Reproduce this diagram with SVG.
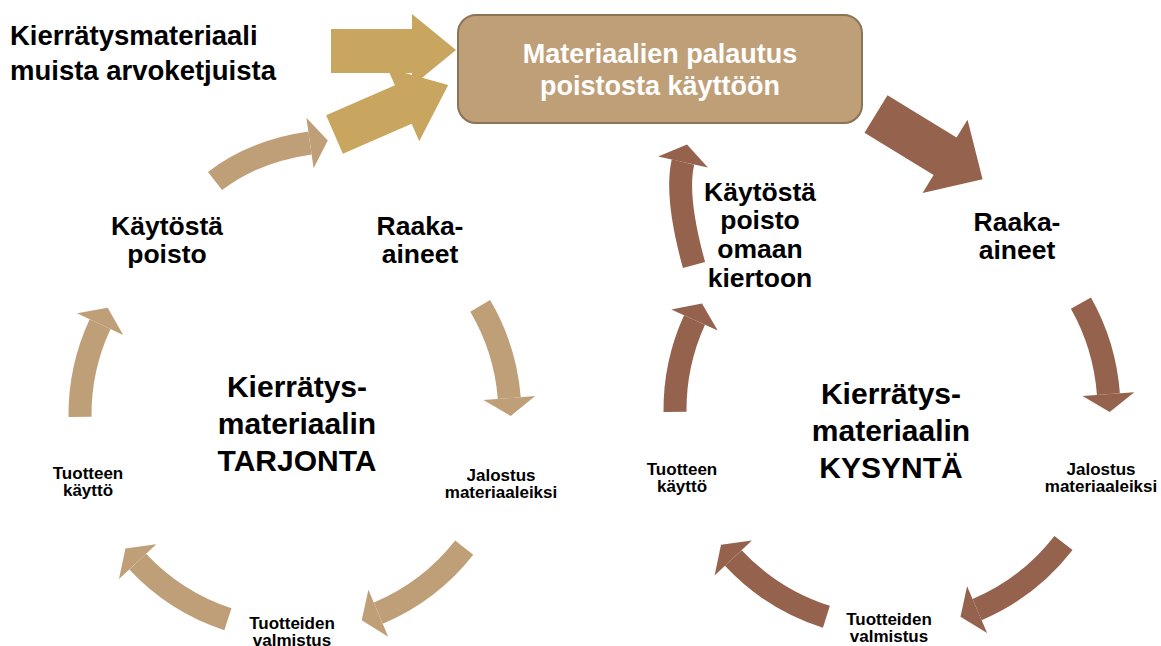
<svg xmlns="http://www.w3.org/2000/svg" width="1161" height="646" viewBox="0 0 1161 646">
<style>
text{font-family:"Liberation Sans",Arial,Helvetica,sans-serif;font-weight:bold;fill:#000;text-anchor:middle}
.l{text-anchor:start}
.big{font-size:30px}
.med{font-size:26.5px}
.sm{font-size:17px}
.box{font-size:27px;fill:#fff}
.tl{font-size:27.5px}
.tanS{fill:none;stroke:#BF9F78;stroke-width:23}
.brnS{fill:none;stroke:#94624D;stroke-width:23}
.tan{fill:#BF9F78}
.brn{fill:#94624D}
.gold{fill:#C8A65F}
</style>
<rect width="1161" height="646" fill="#fff"/>
<g id="connectors">
  <polygon class="gold" points="331,29 412,29 412,14 456,50 412,86 412,73 331,73"/>
  <polygon class="gold" transform="translate(334.5,134.5) rotate(-23.5)" points="0,-21 75,-21 75,-40 124,0 75,40 75,21 0,21"/>
  <polygon class="brn" transform="translate(876,114) rotate(31.5)" points="0,-22 81,-22 81,-43 125,0 81,43 81,22 0,22"/>
  <path class="tanS" d="M480.2,305.9 A215,215 0 0 1 509.3,398.1"/>
  <polygon class="tan" points="535.2,396.1 510.7,416.0 483.4,400.1"/>
  <path class="tanS" d="M464.2,547.7 A215,215 0 0 1 378.3,613.2"/>
  <polygon class="tan" points="388.2,636.7 361.7,620.2 368.4,589.7"/>
  <path class="tanS" d="M227.9,619.2 A215,215 0 0 1 137.7,561.6"/>
  <polygon class="tan" points="119.0,579.0 125.4,548.4 156.3,544.2"/>
  <path class="tanS" d="M80.0,416.9 A215,215 0 0 1 100.1,324.1"/>
  <polygon class="tan" points="77.0,313.3 107.7,307.8 123.2,334.9"/>
  <path class="tanS" d="M215,181 Q254,151 310,143"/>
  <polygon class="tan" points="306.4,117.8 327.8,140.5 313.6,168.2"/>
  <path class="brnS" d="M1080.9,303.1 A217,217 0 0 1 1108.4,394.1"/>
  <polygon class="brn" points="1134.3,392.2 1109.7,412.1 1082.5,396.0"/>
  <path class="brnS" d="M1063.5,543.0 A217,217 0 0 1 977.1,609.6"/>
  <polygon class="brn" points="987.1,633.1 960.5,616.7 967.1,586.2"/>
  <path class="brnS" d="M826.4,616.8 A217,217 0 0 1 733.3,558.0"/>
  <polygon class="brn" points="714.6,575.4 721.0,544.8 751.9,540.6"/>
  <path class="brnS" d="M675.0,411.9 A217,217 0 0 1 694.5,320.0"/>
  <polygon class="brn" points="671.3,309.4 702.0,303.6 717.7,330.6"/>
  <path class="brnS" d="M694,265 Q675,196 683,162"/>
  <polygon class="brn" points="658.1,156.4 687,144.4 707.9,167.6"/>
</g>
<g id="node-palautus">
  <rect x="458" y="15" width="404" height="108" rx="18" ry="18" fill="#BF9F78" stroke="#8B7355" stroke-width="2"/>
  <text class="box" x="660" y="63">Materiaalien palautus</text>
  <text class="box" x="660" y="95">poistosta käyttöön</text>
</g>
<g id="node-muista">
  <text class="tl l" x="10" y="45">Kierrätysmateriaali</text>
  <text class="tl l" x="10" y="80">muista arvoketjuista</text>
</g>
<g id="node-l-poisto">
  <text class="med" x="167" y="235">Käytöstä</text>
  <text class="med" x="167" y="263">poisto</text>
</g>
<g id="node-l-raaka">
  <text class="med" x="420" y="235">Raaka-</text>
  <text class="med" x="420" y="263">aineet</text>
</g>
<g id="node-l-center">
  <text class="big" x="297" y="397">Kierrätys-</text>
  <text class="big" x="297" y="434">materiaalin</text>
  <text class="big" x="297" y="471">TARJONTA</text>
</g>
<g id="node-l-kaytto">
  <text class="sm" x="88" y="479">Tuotteen</text>
  <text class="sm" x="88" y="496">käyttö</text>
</g>
<g id="node-l-jalostus">
  <text class="sm" x="501" y="481">Jalostus</text>
  <text class="sm" x="501" y="498">materiaaleiksi</text>
</g>
<g id="node-l-valmistus">
  <text class="sm" x="292" y="629">Tuotteiden</text>
  <text class="sm" x="292" y="646">valmistus</text>
</g>
<g id="node-r-poisto">
  <text class="med" x="760" y="201">Käytöstä</text>
  <text class="med" x="760" y="229">poisto</text>
  <text class="med" x="760" y="258">omaan</text>
  <text class="med" x="760" y="287">kiertoon</text>
</g>
<g id="node-r-raaka">
  <text class="med" x="1017" y="231">Raaka-</text>
  <text class="med" x="1017" y="259">aineet</text>
</g>
<g id="node-r-center">
  <text class="big" x="891" y="404">Kierrätys-</text>
  <text class="big" x="891" y="441">materiaalin</text>
  <text class="big" x="891" y="478">KYSYNTÄ</text>
</g>
<g id="node-r-kaytto">
  <text class="sm" x="682" y="475">Tuotteen</text>
  <text class="sm" x="682" y="492">käyttö</text>
</g>
<g id="node-r-jalostus">
  <text class="sm" x="1101" y="475">Jalostus</text>
  <text class="sm" x="1101" y="492">materiaaleiksi</text>
</g>
<g id="node-r-valmistus">
  <text class="sm" x="889" y="625">Tuotteiden</text>
  <text class="sm" x="889" y="642">valmistus</text>
</g>
</svg>
